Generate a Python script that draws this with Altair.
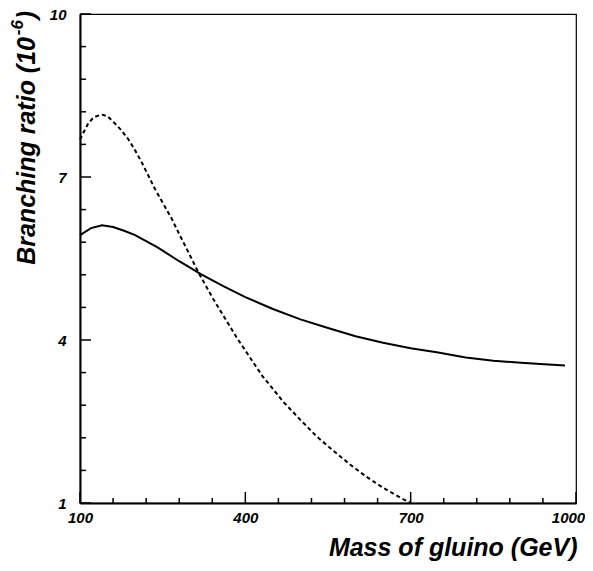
import altair as alt
import pandas as pd

# --- data ---
solid_mass = [100, 120, 140, 160, 180, 200, 240, 280, 320, 360, 400, 450, 500,
              550, 600, 650, 700, 750, 800, 850, 900, 950, 980]
solid_br = [5.93, 6.06, 6.11, 6.08, 6.01, 5.93, 5.71, 5.45, 5.21, 4.99, 4.79, 4.57,
            4.38, 4.22, 4.07, 3.95, 3.85, 3.77, 3.68, 3.62, 3.58, 3.55, 3.53]

dashed_mass = [100, 115, 125, 139, 150, 163, 175, 188, 200, 212, 236, 266, 281, 296,
               315, 342, 384, 430, 470, 499, 530, 560, 590, 620, 650, 681, 700]
dashed_br = [7.69, 7.99, 8.10, 8.15, 8.12, 7.99, 7.86, 7.69, 7.49, 7.27, 6.78, 6.24,
             5.93, 5.63, 5.24, 4.75, 4.05, 3.35, 2.85, 2.54, 2.22, 1.96, 1.71, 1.48,
             1.28, 1.10, 1.00]

x_major = [100, 400, 700, 1000]
x_minor = [160, 220, 280, 340, 460, 520, 580, 640, 760, 820, 880, 940]
y_major = [1, 4, 7, 10]
y_minor = [1.6, 2.2, 2.8, 3.4, 4.6, 5.2, 5.8, 6.4, 7.6, 8.2, 8.8, 9.4]

x_title = "Mass of gluino (GeV)"
y_title_main = "Branching ratio (10"
y_title_sup = "-6"
y_title_close = ")"

W, H = 496, 489
TOP = 6
FONT = "Liberation Sans"

xs = alt.Scale(domain=[100, 1000], nice=False, zero=False)
ys = alt.Scale(domain=[1, 10], nice=False, zero=False)

solid_df = pd.DataFrame({"mass": solid_mass, "br": solid_br})
dashed_df = pd.DataFrame({"mass": dashed_mass, "br": dashed_br})

x_axis = alt.Axis(values=x_major, format="d", ticks=False, grid=False,
                  labelFlush=False, domainColor="black", domainWidth=2,
                  labelFont=FONT, labelFontSize=15, labelFontStyle="italic",
                  labelFontWeight="bold", labelColor="black", labelPadding=7,
                  labelOffset=alt.ExprRef("datum.value == 1000 ? -8 : 0"),
                  title=x_title, titleFont=FONT, titleFontSize=25,
                  titleFontStyle="italic", titleFontWeight="bold", titleColor="black",
                  titleAlign="right", titleBaseline="alphabetic", titleX=W + 1, titleY=52,
                  titleAngle=0)
y_axis = alt.Axis(values=y_major, format="d", ticks=False, grid=False,
                  labelFlush=False, domainColor="black", domainWidth=2,
                  labelFont=FONT, labelFontSize=15, labelFontStyle="italic",
                  labelFontWeight="bold", labelColor="black", labelPadding=14,
                  title=None)

solid = alt.Chart(solid_df).mark_line(color="black", strokeWidth=2).encode(
    x=alt.X("mass:Q", scale=xs, axis=x_axis),
    y=alt.Y("br:Q", scale=ys, axis=y_axis),
)
dashed = alt.Chart(dashed_df).mark_line(color="black", strokeWidth=2,
                                        strokeDash=[4, 3]).encode(
    x=alt.X("mass:Q", scale=xs),
    y=alt.Y("br:Q", scale=ys),
)

xt_major = alt.Chart(pd.DataFrame({"xa": x_major})).mark_rule(
    color="black", strokeWidth=1.5).encode(
    x=alt.X("xa:Q", scale=xs), y=alt.value(H), y2=alt.value(H - 11))
xt_minor = alt.Chart(pd.DataFrame({"xb": x_minor})).mark_rule(
    color="black", strokeWidth=1.5).encode(
    x=alt.X("xb:Q", scale=xs), y=alt.value(H), y2=alt.value(H - 5))
yt_major = alt.Chart(pd.DataFrame({"ya": y_major})).mark_rule(
    color="black", strokeWidth=1.5).encode(
    y=alt.Y("ya:Q", scale=ys), x=alt.value(0), x2=alt.value(11))
yt_minor = alt.Chart(pd.DataFrame({"yb": y_minor})).mark_rule(
    color="black", strokeWidth=1.5).encode(
    y=alt.Y("yb:Q", scale=ys), x=alt.value(0), x2=alt.value(6))

ytitle_main = alt.Chart(pd.DataFrame({"t": [y_title_main]})).mark_text(
    angle=270, align="right", baseline="alphabetic", font=FONT, fontSize=25,
    fontStyle="italic", fontWeight="bold", color="black").encode(
    text="t:N", x=alt.value(-45), y=alt.value(29 - TOP))
ytitle_sup = alt.Chart(pd.DataFrame({"t": [y_title_sup]})).mark_text(
    angle=270, align="right", baseline="alphabetic", font=FONT, fontSize=17,
    fontStyle="italic", fontWeight="bold", color="black").encode(
    text="t:N", x=alt.value(-57), y=alt.value(12 - TOP))
ytitle_close = alt.Chart(pd.DataFrame({"t": [y_title_close]})).mark_text(
    angle=270, align="right", baseline="alphabetic", font=FONT, fontSize=25,
    fontStyle="italic", fontWeight="bold", color="black").encode(
    text="t:N", x=alt.value(-45), y=alt.value(3 - TOP))

chart = alt.layer(
    dashed, solid, xt_minor, xt_major, yt_minor, yt_major,
    ytitle_main, ytitle_sup, ytitle_close
).properties(
    width=W, height=H,
    background="white",
    autosize=alt.AutoSizeParams(type="none"),
    padding={"left": 72, "top": TOP, "right": 9, "bottom": 60},
).configure_view(stroke="black", strokeWidth=1.2)

chart.save("out.html", embed_options={"renderer": "svg", "actions": False})
